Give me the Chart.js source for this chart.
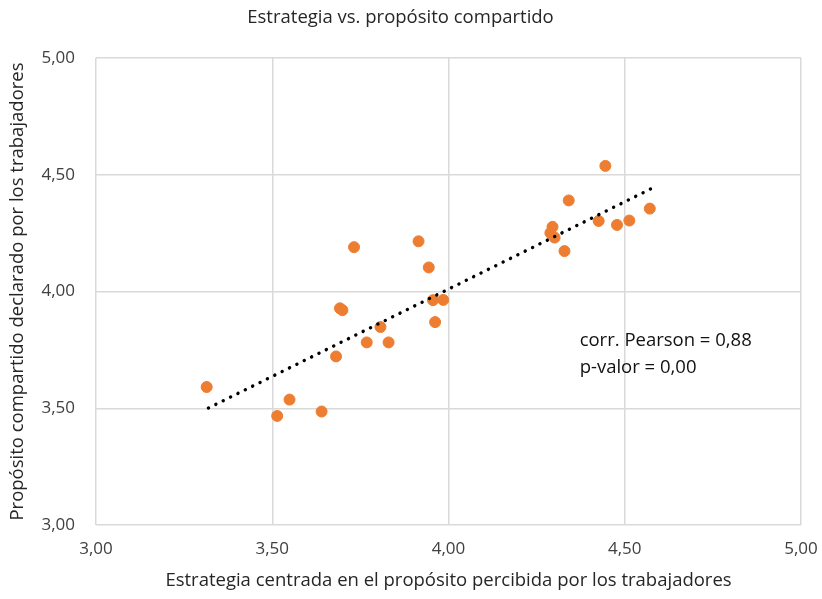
<!DOCTYPE html>
<html>
<head>
<meta charset="utf-8">
<script src="https://cdn.jsdelivr.net/npm/chart.js@4"></script>
<style>
  html, body { margin: 0; padding: 0; background: #fff; }
  #wrap { width: 822px; height: 599px; }
</style>
</head>
<body>
<div id="wrap"><canvas id="chart"></canvas></div>
<script>
// Estrategia (x) vs. propósito compartido (y)
const xValues = [3.314, 3.514, 3.549, 3.640, 3.681, 3.692, 3.699, 3.732, 3.768, 3.807, 3.830, 3.915, 3.944,
                 3.956, 3.962, 3.985, 4.289, 4.295, 4.301, 4.329, 4.341, 4.426, 4.445, 4.478, 4.513, 4.571];
const yValues = [3.591, 3.467, 3.537, 3.486, 3.722, 3.928, 3.920, 4.190, 3.782, 3.848, 3.782, 4.215, 4.103,
                 3.963, 3.869, 3.964, 4.251, 4.277, 4.231, 4.173, 4.390, 4.302, 4.538, 4.285, 4.304, 4.355];

// linear trend line end points
const trendX = [3.319, 4.576];
const trendY = [3.501, 4.441];

const axisTicks = [3.0, 3.5, 4.0, 4.5, 5.0];
const statsLines = ['corr. Pearson = 0,88', 'p-valor = 0,00'];
const statsPos = { x: 4.372, y: [3.790, 3.675] };

const FONT = "'Open Sans', sans-serif";
const fmt = v => v.toFixed(2).replace('.', ',');

const points = xValues.map((x, i) => ({ x: x, y: yValues[i] }));
const trend = trendX.map((x, i) => ({ x: x, y: trendY[i] }));

// draws the Pearson note inside the plot
const statsText = {
    id: 'statsText',
    afterDatasetsDraw(chart) {
        const { ctx, scales } = chart;
        ctx.save();
        ctx.font = "18.5px " + FONT;
        ctx.fillStyle = '#111111';
        ctx.textBaseline = 'middle';
        statsLines.forEach((t, i) => {
            ctx.fillText(t, scales.x.getPixelForValue(statsPos.x), scales.y.getPixelForValue(statsPos.y[i]));
        });
        ctx.restore();
    }
};

new Chart(document.getElementById('chart'), {
    type: 'scatter',
    data: {
        datasets: [{
            label: 'Datos',
            data: points,
            backgroundColor: '#ED7D31',
            borderColor: '#ED7D31',
            pointRadius: 5.5,
            pointHoverRadius: 5.5,
            order: 1
        }, {
            label: 'Tendencia',
            type: 'line',
            data: trend,
            borderColor: '#000000',
            borderWidth: 3.4,
            borderDash: [0.1, 8.12],
            borderCapStyle: 'round',
            pointRadius: 0,
            fill: false,
            order: 0
        }]
    },
    options: {
        responsive: true,
        maintainAspectRatio: false,
        animation: false,
        layout: { padding: { left: 0, right: 21, top: 0, bottom: 0 } },
        plugins: {
            legend: { display: false },
            tooltip: { enabled: false },
            title: {
                display: true,
                text: 'Estrategia vs. propósito compartido',
                color: '#262626',
                font: { family: FONT, size: 18.5, weight: 'normal' },
                padding: { top: 6.9, bottom: 28.9 }
            }
        },
        scales: {
            x: {
                type: 'linear',
                min: 3, max: 5,
                afterBuildTicks: s => { s.ticks = axisTicks.map(v => ({ value: v })); },
                afterFit: s => { s.height = 74; s.paddingLeft = 0; s.paddingRight = 0; },
                ticks: {
                    padding: 13.8,
                    color: '#404040',
                    font: { family: FONT, size: 17 },
                    callback: v => fmt(v),
                    maxRotation: 0
                },
                grid: { color: '#D9D9D9', lineWidth: 1.5, drawTicks: false },
                border: { display: false },
                title: {
                    display: true,
                    text: 'Estrategia centrada en el propósito percibida por los trabajadores',
                    color: '#262626',
                    font: { family: FONT, size: 18.5 },
                    padding: { top: 0, bottom: 6.9 }
                }
            },
            y: {
                type: 'linear',
                min: 3, max: 5,
                afterBuildTicks: s => { s.ticks = axisTicks.map(v => ({ value: v })); },
                afterFit: s => { s.width = 96; s.paddingTop = 0; s.paddingBottom = 0; },
                ticks: {
                    padding: 21,
                    color: '#404040',
                    font: { family: FONT, size: 17 },
                    callback: v => fmt(v)
                },
                grid: { color: '#D9D9D9', lineWidth: 1.5, drawTicks: false },
                border: { display: false },
                title: {
                    display: true,
                    text: 'Propósito compartido declarado por los trabajadores',
                    color: '#262626',
                    font: { family: FONT, size: 18.5 },
                    padding: { top: 6.9, bottom: 0 }
                }
            }
        }
    },
    plugins: [statsText]
});
</script>
</body>
</html>
